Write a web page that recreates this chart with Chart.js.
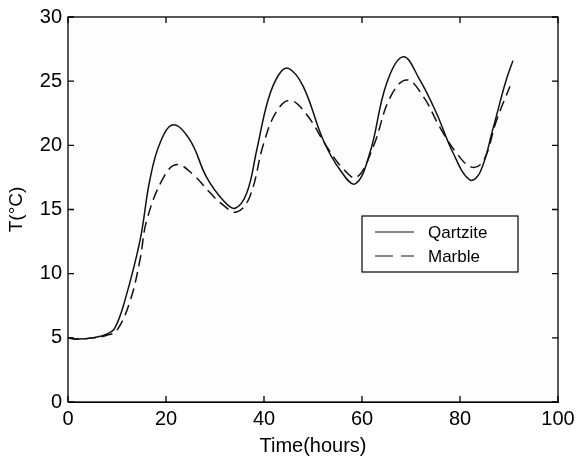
<!DOCTYPE html>
<html>
<head>
<meta charset="utf-8">
<script src="https://cdn.jsdelivr.net/npm/chart.js@4.4.1/dist/chart.umd.min.js"></script>
<style>
html,body{margin:0;padding:0;background:#fff;}
#wrap{width:576px;height:459px;position:relative;}
</style>
</head>
<body>
<div id="wrap"><canvas id="c" width="576" height="459"></canvas></div>
<script>
// Data
const qartziteX = [0, 2, 5, 8, 9.6, 11.6, 14.7, 16.7, 18.8, 21.5, 24.9, 28.3, 31.7, 34.1, 36.5, 38.5, 40.8, 43, 45, 48.0, 52.1, 55.5, 58.6, 61.6, 65.0, 68.4, 71.8, 75.2, 78.6, 82.0, 84.1, 86.8, 89.2, 90.8];
const qartziteY = [5.0, 4.9, 5.0, 5.3, 5.8, 7.9, 12.6, 17.3, 20.2, 21.6, 20.4, 17.5, 15.7, 15.1, 16.3, 19.6, 23.5, 25.5, 26.0, 24.6, 20.4, 18.1, 17.0, 19.4, 24.8, 26.9, 25.1, 22.5, 19.4, 17.3, 17.9, 21.4, 24.8, 26.6];
const marbleX = [0, 2, 5, 8, 10, 12.7, 14.7, 16.1, 19.5, 22.2, 25.6, 29.0, 31.5, 34.4, 37.1, 39.9, 42.5, 45.3, 48.7, 52.8, 56.1, 58.9, 62.3, 65.7, 69.1, 72.5, 75.9, 79.3, 82.4, 84.8, 87.5, 90.2];
const marbleY = [5.0, 4.9, 5.0, 5.2, 5.6, 7.9, 11.1, 14.2, 17.5, 18.5, 17.7, 16.3, 15.4, 14.8, 16.0, 20.1, 22.6, 23.5, 22.4, 19.9, 18.2, 17.5, 19.9, 23.7, 25.1, 23.8, 21.4, 19.4, 18.3, 18.8, 22.0, 24.6];
const xTicks = [0, 20, 40, 60, 80, 100];
const yTicks = [0, 5, 10, 15, 20, 25, 30];
const seriesLabels = ['Qartzite', 'Marble'];
const xTitle = 'Time(hours)';
const yTitle = 'T(\u00B0C)';

const toPts = (xs, ys) => xs.map((x, i) => ({x: x, y: ys[i]}));
const FONT = '"Liberation Sans", Arial, sans-serif';

const framePlugin = {
  id: 'frame',
  beforeDatasetsDraw(chart) {
    const {ctx, chartArea: a} = chart;
    ctx.save();
    ctx.fillStyle = '#fdfdfd';
    ctx.fillRect(a.left, a.top, a.right - a.left, a.bottom - a.top);
    ctx.restore();
  },
  afterDatasetsDraw(chart) {
    const {ctx, chartArea: a, scales} = chart;
    ctx.save();
    ctx.strokeStyle = '#000';
    ctx.lineWidth = 1.3;
    ctx.strokeRect(a.left, a.top, a.right - a.left, a.bottom - a.top);
    const L = 6;
    ctx.beginPath();
    xTicks.forEach(v => {
      const px = scales.x.getPixelForValue(v);
      ctx.moveTo(px, a.bottom); ctx.lineTo(px, a.bottom - L);
      ctx.moveTo(px, a.top); ctx.lineTo(px, a.top + L);
    });
    yTicks.forEach(v => {
      const py = scales.y.getPixelForValue(v);
      ctx.moveTo(a.left, py); ctx.lineTo(a.left + L, py);
      ctx.moveTo(a.right, py); ctx.lineTo(a.right - L, py);
    });
    ctx.stroke();

    // legend box
    const bx = 362, by = 216, bw = 156, bh = 56;
    ctx.fillStyle = '#fff';
    ctx.fillRect(bx, by, bw, bh);
    ctx.lineWidth = 1.2;
    ctx.strokeRect(bx, by, bw, bh);
    ctx.font = '17px ' + FONT;
    ctx.fillStyle = '#000';
    ctx.textBaseline = 'middle';
    const rows = [by + 16, by + 40];
    chart.data.datasets.forEach((ds, i) => {
      ctx.strokeStyle = '#111';
      ctx.lineWidth = 1.2;
      ctx.setLineDash(i === 0 ? [] : [18, 8]);
      ctx.beginPath();
      ctx.moveTo(375, rows[i]); ctx.lineTo(414, rows[i]);
      ctx.stroke();
      ctx.setLineDash([]);
      ctx.fillText(ds.label, 428, rows[i] + 1);
    });
    ctx.restore();
  }
};

new Chart(document.getElementById('c'), {
  type: 'line',
  data: {
    datasets: [
      {label: seriesLabels[0], data: toPts(qartziteX, qartziteY), borderColor: '#111', borderWidth: 1.5, pointRadius: 0, tension: 0.4, fill: false},
      {label: seriesLabels[1], data: toPts(marbleX, marbleY), borderColor: '#111', borderWidth: 1.5, borderDash: [11, 6], pointRadius: 0, tension: 0.4, fill: false}
    ]
  },
  options: {
    responsive: false,
    animation: false,
    layout: {padding: {top: 17, right: 18, left: 0, bottom: 0}},
    plugins: {legend: {display: false}, tooltip: {enabled: false}},
    scales: {
      x: {
        type: 'linear', min: 0, max: 100,
        afterBuildTicks: s => { s.ticks = xTicks.map(v => ({value: v})); },
        afterFit: s => { s.height = 57; s.paddingLeft = 0; s.paddingRight = 0; },
        grid: {display: false, drawTicks: false},
        border: {display: true, color: '#000', width: 1},
        ticks: {color: '#000', font: {size: 20, family: FONT}, padding: 5, maxRotation: 0},
        title: {display: true, text: xTitle, color: '#000', font: {size: 20, family: FONT}, padding: {top: 0, bottom: 1}}
      },
      y: {
        type: 'linear', min: 0, max: 30,
        afterBuildTicks: s => { s.ticks = yTicks.map(v => ({value: v})); },
        afterFit: s => { s.width = 68; s.paddingTop = 0; s.paddingBottom = 0; },
        grid: {display: false, drawTicks: false},
        border: {display: true, color: '#000', width: 1},
        ticks: {color: '#000', font: {size: 20, family: FONT}, padding: 6},
        title: {display: true, text: yTitle, color: '#000', font: {size: 19, family: FONT}, padding: {top: 5, bottom: 0}}
      }
    }
  },
  plugins: [framePlugin]
});
</script>
</body>
</html>
